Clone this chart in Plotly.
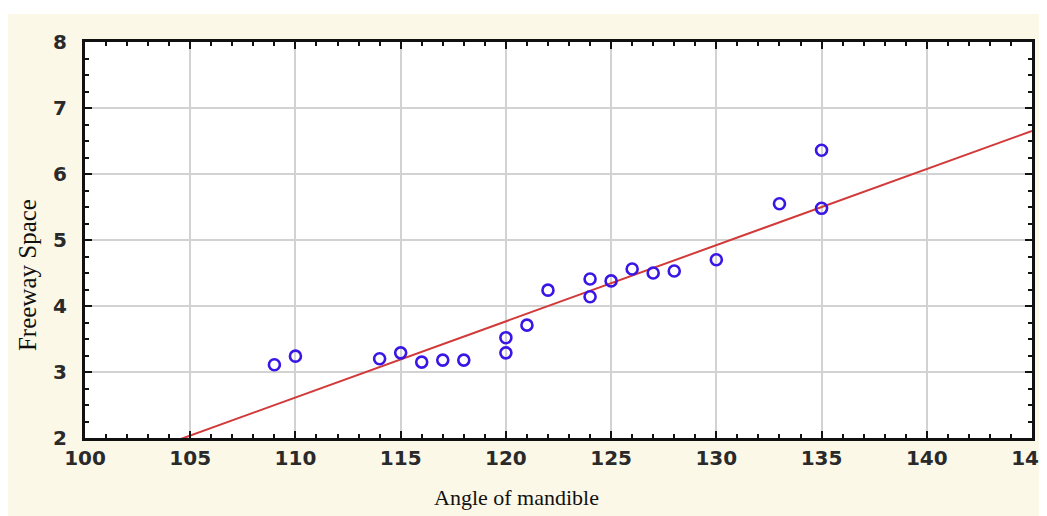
import numpy as np
import plotly.graph_objects as go

# Data
angle_of_mandible = [109, 110, 114, 115, 116, 117, 118, 120, 120, 121, 122,
                     124, 124, 125, 126, 127, 128, 130, 133, 135, 135]
freeway_space = [3.11, 3.24, 3.20, 3.29, 3.15, 3.18, 3.18, 3.52, 3.29, 3.71, 4.24,
                 4.41, 4.14, 4.38, 4.56, 4.50, 4.53, 4.70, 5.55, 6.36, 5.48]
fit_intercept = -10.08
fit_slope = 0.1154
x_ticks = [100, 105, 110, 115, 120, 125, 130, 135, 140, 145]
y_ticks = [2, 3, 4, 5, 6, 7, 8]
x_title = "Angle of mandible"
y_title = "Freeway Space"

fit_x = np.array([x_ticks[0], x_ticks[-1]], dtype=float)
fit_y = fit_intercept + fit_slope * fit_x

fig = go.Figure()
fig.add_trace(go.Scatter(x=fit_x, y=fit_y, mode="lines",
                         line=dict(color="#D23A3A", width=2), showlegend=False))
fig.add_trace(go.Scatter(x=angle_of_mandible, y=freeway_space, mode="markers",
                         marker=dict(symbol="circle-open", size=11, color="#3A16E6",
                                     line=dict(width=2.6, color="#3A16E6")),
                         showlegend=False))

cream = "#FBF8E8"
axis_common = dict(
    showline=True, linecolor="#111111", linewidth=3, mirror="allticks",
    ticks="inside", ticklen=7, tickwidth=2, tickcolor="#111111",
    showgrid=True, gridcolor="#D2D2D2", gridwidth=1.5, zeroline=False,
    tickfont=dict(family="DejaVu Sans", size=20, color="#2a2a2a", weight="bold"),
    automargin=False, ticklabeloverflow="allow",
)
fig.update_layout(
    width=1039, height=508,
    margin=dict(l=77, r=15, t=34, b=78),
    paper_bgcolor=cream, plot_bgcolor="white",
    xaxis=dict(range=[100, 145], tickvals=x_ticks,
               minor=dict(dtick=1, ticks="inside", ticklen=4, tickwidth=2, tickcolor="#111111", showgrid=False),
               ticklabelstandoff=0,
               **axis_common),
    yaxis=dict(range=[2, 8], tickvals=y_ticks,
               minor=dict(dtick=0.25, ticks="inside", ticklen=4, tickwidth=2, tickcolor="#111111", showgrid=False),
               ticklabelstandoff=11,
               **axis_common),
    annotations=[
        dict(text=x_title, xref="paper", yref="paper", x=0.4557, y=-0.1515,
             xanchor="center", yanchor="middle", showarrow=False,
             font=dict(family="Liberation Serif, Times New Roman", size=22, color="#111111")),
        dict(text=y_title, xref="paper", yref="paper", x=-0.0612, y=0.4116,
             xanchor="center", yanchor="middle", showarrow=False, textangle=-90,
             font=dict(family="Liberation Serif, Times New Roman", size=25, color="#111111")),
    ],
    shapes=[
        dict(type="rect", xref="paper", yref="paper", x0=-0.2, x1=1.1,
             y0=1 + 28 / 396, y1=1.2, fillcolor="white", line=dict(width=0), layer="below"),
    ],
)
fig.write_html("out.html")
